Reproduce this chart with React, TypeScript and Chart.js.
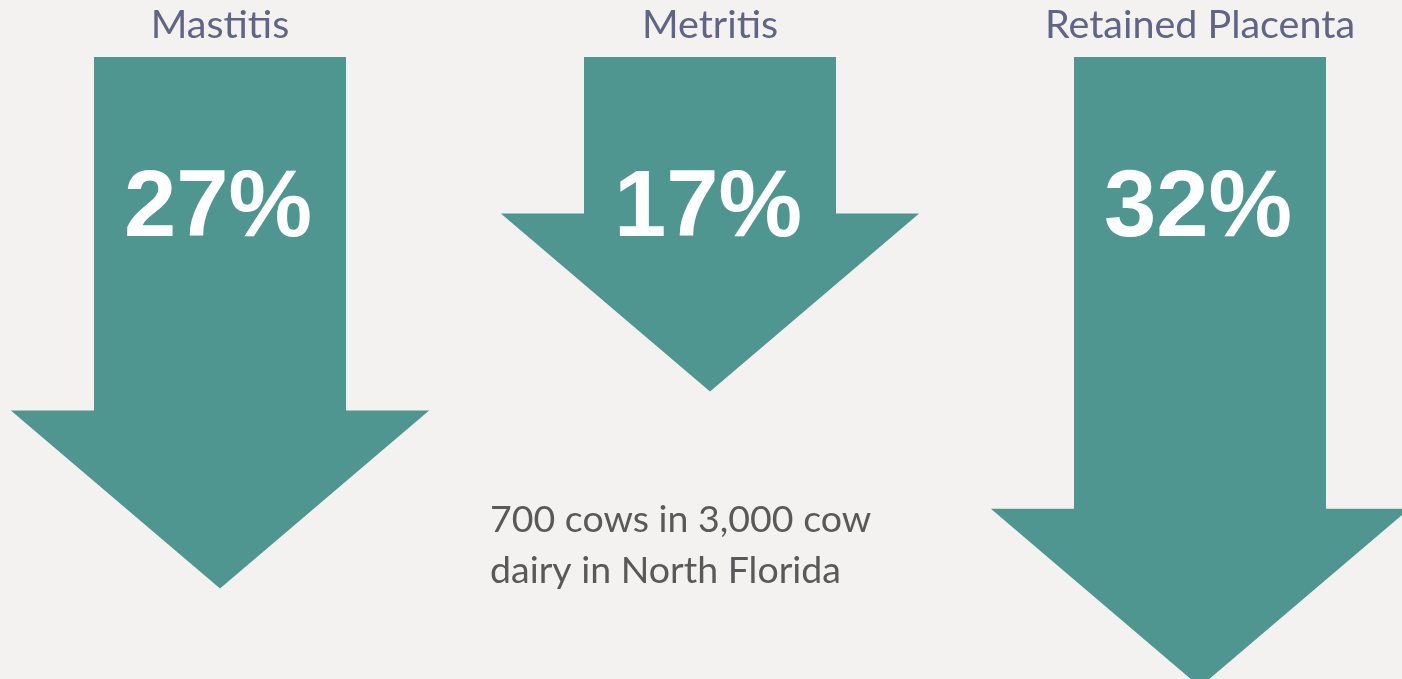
import React, { useEffect, useRef } from "react";
import { Chart, registerables } from "chart.js";

Chart.register(...registerables);

const categories = ["Mastitis", "Metritis", "Retained Placenta"];
const reductions = [27, 17, 32];
const valueLabels = ["27%", "17%", "32%"];
const noteLines = ["700 cows in 3,000 cow", "dairy in North Florida"];

const TEAL = "#4f9691";
const BG = "#f3f2f0";

const arrowPlugin = {
  id: "arrows",
  afterDatasetsDraw(chart: any) {
    const { ctx } = chart;
    const meta = chart.getDatasetMeta(0);
    ctx.save();
    meta.data.forEach((bar: any, i: number) => {
      const p = bar.getProps(["x", "y", "base", "width"], true);
      const halfShaft = p.width / 2;
      const halfHead = halfShaft * 1.66;
      const headLen = 178;
      const top = p.base;
      const tip = p.y;
      const neck = tip - headLen;
      ctx.beginPath();
      ctx.moveTo(p.x - halfShaft, top);
      ctx.lineTo(p.x + halfShaft, top);
      ctx.lineTo(p.x + halfShaft, neck);
      ctx.lineTo(p.x + halfHead, neck);
      ctx.lineTo(p.x, tip);
      ctx.lineTo(p.x - halfHead, neck);
      ctx.lineTo(p.x - halfShaft, neck);
      ctx.closePath();
      ctx.fillStyle = TEAL;
      ctx.fill();

      // category title
      ctx.fillStyle = "#606485";
      ctx.font = "39.5px Lato";
      ctx.textAlign = "center";
      ctx.textBaseline = "alphabetic";
      ctx.fillText(categories[i], p.x, top - 19);

      // value label
      ctx.fillStyle = "#ffffff";
      ctx.font = "bold 94px 'Liberation Sans', Arial, sans-serif";
      ctx.fillText(valueLabels[i], p.x - 2, top + 179);
    });

    // note
    ctx.fillStyle = "#595959";
    ctx.font = "37.5px Lato";
    ctx.textAlign = "left";
    noteLines.forEach((line, j) => {
      ctx.fillText(line, 490, 532 + j * 51);
    });
    ctx.restore();
  },
};

const bgPlugin = {
  id: "bg",
  beforeDraw(chart: any) {
    const { ctx, width, height } = chart;
    ctx.save();
    ctx.fillStyle = BG;
    ctx.fillRect(0, 0, width, height);
    ctx.restore();
  },
};

export default function App() {
  const ref = useRef<HTMLCanvasElement | null>(null);
  useEffect(() => {
    document.body.style.margin = "0";
    document.body.style.background = BG;
    const chart = new Chart(ref.current as HTMLCanvasElement, {
      type: "bar",
      data: {
        labels: categories,
        datasets: [
          {
            data: reductions,
            backgroundColor: "rgba(0,0,0,0)",
            barThickness: 252,
          },
        ],
      },
      options: {
        responsive: false,
        animation: false,
        layout: { padding: { top: 57, bottom: 0, left: 220, right: 202 } },
        plugins: { legend: { display: false }, tooltip: { enabled: false } },
        scales: {
          x: { display: false, offset: false },
          y: { display: false, reverse: true, min: 0, max: 31.6 },
        },
      },
      plugins: [bgPlugin, arrowPlugin],
    });
    return () => chart.destroy();
  }, []);
  return (
    <div style={{ width: 1402, height: 679, overflow: "hidden" }}>
      <canvas ref={ref} width={1402} height={679} style={{ display: "block" }} />
    </div>
  );
}
